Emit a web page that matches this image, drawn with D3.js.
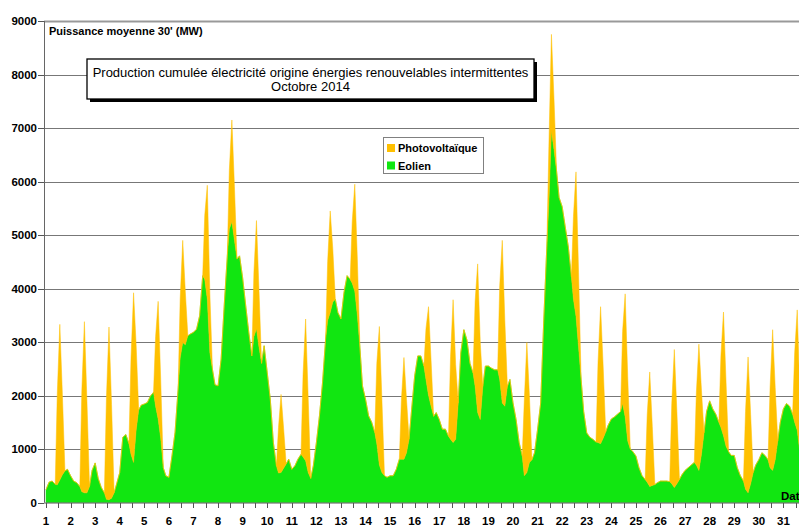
<!DOCTYPE html>
<html><head><meta charset="utf-8">
<script src="https://cdn.jsdelivr.net/npm/d3@7"></script>
<style>
body{margin:0;background:#fff}
svg{display:block}
text{font-family:"Liberation Sans",Arial,sans-serif;fill:#000}
</style>
</head><body>
<svg id="chart" width="799" height="527"></svg>
<script>
// ---- data (MW, 30-min mean power) ----
const dayLabels = ["1","2","3","4","5","6","7","8","9","10","11","12","13","14","15","16",
  "17","18","19","20","21","22","23","24","25","26","27","28","29","30","31"];
const yTickValues = [0,1000,2000,3000,4000,5000,6000,7000,8000,9000];
// hours of each day at which values were read
const sampleHours = [0,3,6,9,11,13.5,16,18.5,21];
// Eolien (wind) per day at sampleHours
const windMW = [
  [240,380,400,340,330,420,520,590,620],
  [500,400,370,300,200,180,180,300,600],
  [740,450,280,180,60,50,80,180,350],
  [560,1220,1270,1100,900,750,1350,1730,1820],
  [1840,1870,1990,2060,1800,1560,1200,650,500],
  [470,870,1310,2120,2700,2990,2950,3115,3150],
  [3180,3240,3490,4240,4170,3800,2800,2490,2200],
  [2180,2680,3680,4600,5110,5250,4900,4550,4610],
  [4200,3680,3180,2740,3100,3250,2900,2600,2930],
  [2430,1930,1120,685,550,560,640,720,810],
  [620,685,810,900,850,780,560,450,685],
  [1120,1620,2240,3050,3400,3550,3750,3800,3550],
  [3430,3930,4240,4170,4100,3950,3500,2900,2180],
  [1930,1620,1500,1310,1100,700,560,500,470],
  [500,500,620,810,810,810,930,1180,1740],
  [2370,2740,2740,2550,2300,2000,1800,1610,1680],
  [1550,1370,1370,1240,1180,1120,1180,1860,2800],
  [3230,3040,2600,2420,2170,1680,1550,2170,2550],
  [2550,2510,2480,2480,2300,1860,1800,2170,2300],
  [1860,1550,1120,870,500,560,750,800,930],
  [1370,1860,3400,4780,5600,6950,6600,6200,5700],
  [5530,5150,4780,4220,3800,3480,2900,2300,1700],
  [1300,1220,1180,1130,1120,1100,1200,1320,1450],
  [1560,1600,1650,1700,1850,1600,1150,1000,950],
  [870,650,500,430,380,300,320,335,370],
  [400,400,400,390,350,280,350,430,520],
  [600,650,700,750,700,600,900,1300,1700],
  [1900,1750,1650,1500,1400,1250,1050,950,880],
  [880,650,500,400,250,180,350,560,700],
  [800,930,880,800,650,600,800,1150,1500],
  [1750,1850,1800,1650,1500,1350,950,900,800]
];
// Photovoltaïque per day at 11h, 13h30, 16h (zero at the other sample hours)
const pvHours = [11,13.5,16];
const pvMW = [
  [1700,2910,1500],[1900,3200,1700],[1900,3230,1750],[1800,3170,1600],[1300,2200,1100],
  [1100,1910,1000],[1200,2130,1100],[1100,1900,1000],[1200,2020,1050],[850,1460,750],
  [1550,2650,1400],[1100,1900,1000],[1150,2000,1050],[1500,2590,1350],[1100,1900,1000],
  [950,1660,850],[1550,2670,1400],[1600,2780,1450],[1750,3040,1600],[1400,2430,1250],
  [1050,1800,950],[1550,2700,1400],[1500,2560,1350],[1350,2300,1200],[1250,2140,1100],
  [1500,2580,1350],[1350,2360,1200],[1350,2310,1200],[1450,2540,1300],[1500,2630,1350],
  [1300,2250,1150]
];
const seriesNames = {wind:"Eolien", pv:"Photovoltaïque"};
const colors = {wind:"#11e611", pv:"#ffc000"};

// ---- build table ----
const rows = [];
windMW.forEach((day, d) => {
  sampleHours.forEach((h, i) => {
    const k = pvHours.indexOf(h);
    rows.push({t: d + h/24, wind: day[i], pv: k >= 0 ? pvMW[d][k] : 0});
  });
});

const svg = d3.select("#chart");
const W = 799, H = 527;
const x = d3.scaleLinear().domain([0, 31]).range([46, 46 + 31*24.58]);
const y = d3.scaleLinear().domain([0, 9000]).range([502.5, 21]);
const axisX = 44;

svg.append("rect").attr("width", W).attr("height", H).attr("fill", "#fff");

// gridlines
svg.append("g").selectAll("line").data(yTickValues.filter(v => v > 0)).join("line")
  .attr("x1", axisX).attr("x2", W)
  .attr("y1", d => Math.round(y(d)) + 0.5).attr("y2", d => Math.round(y(d)) + 0.5)
  .attr("stroke", d => d === 9000 ? "#999" : "#777")
  .attr("stroke-width", d => d === 9000 ? 2 : 1);

// stacked areas
const stack = d3.stack().keys(["wind", "pv"]);
const layers = stack(rows);
const area = d3.area()
  .x(d => x(d.data.t))
  .y0(d => y(d[0]))
  .y1(d => y(d[1]));
svg.append("g").selectAll("path").data(layers).join("path")
  .attr("d", area)
  .attr("fill", d => colors[d.key])
  .attr("stroke", d => colors[d.key])
  .attr("stroke-width", 0.5);

// y axis
const yAxis = svg.append("g");
yAxis.append("line").attr("x1", axisX + 0.5).attr("x2", axisX + 0.5)
  .attr("y1", y(9000)).attr("y2", y(0)).attr("stroke", "#666");
yAxis.selectAll("line.tk").data(yTickValues).join("line").attr("class", "tk")
  .attr("x1", axisX - 6).attr("x2", axisX)
  .attr("y1", d => Math.round(y(d)) + 0.5).attr("y2", d => Math.round(y(d)) + 0.5)
  .attr("stroke", "#555");
yAxis.selectAll("text").data(yTickValues).join("text")
  .attr("x", 37).attr("y", d => y(d) + 4)
  .attr("text-anchor", "end").attr("font-size", "11.5px").attr("font-weight", "bold")
  .text(d => d);

// x axis
const xAxis = svg.append("g");
xAxis.append("line").attr("x1", axisX).attr("x2", W)
  .attr("y1", 503).attr("y2", 503).attr("stroke", "#555");
xAxis.selectAll("line.tk").data(d3.range(0, 62)).join("line").attr("class", "tk")
  .attr("x1", d => Math.round(x(d/2)) + 0.5).attr("x2", d => Math.round(x(d/2)) + 0.5)
  .attr("y1", 503).attr("y2", 508).attr("stroke", "#555");
xAxis.selectAll("text").data(dayLabels).join("text")
  .attr("x", (d, i) => x(i)).attr("y", 525)
  .attr("text-anchor", "middle").attr("font-size", "11.5px").attr("font-weight", "bold")
  .text(d => d);
svg.append("text").attr("x", 781).attr("y", 500)
  .attr("font-size", "11.5px").attr("font-weight", "bold").text("Date");

// unit label
svg.append("text").attr("x", 49).attr("y", 35)
  .attr("font-size", "11px").attr("font-weight", "bold")
  .text("Puissance moyenne 30' (MW)");

// title box
const tb = {x: 87, y: 59, w: 447, h: 40};
svg.append("rect").attr("x", tb.x + 3).attr("y", tb.y + 3).attr("width", tb.w).attr("height", tb.h).attr("fill", "#000");
svg.append("rect").attr("x", tb.x).attr("y", tb.y).attr("width", tb.w).attr("height", tb.h)
  .attr("fill", "#fff").attr("stroke", "#000").attr("stroke-width", 1.3);
svg.append("text").attr("x", tb.x + tb.w/2).attr("y", 76.5).attr("text-anchor", "middle")
  .attr("font-size", "13px").text("Production cumulée électricité origine énergies renouvelables intermittentes");
svg.append("text").attr("x", tb.x + tb.w/2).attr("y", 91).attr("text-anchor", "middle")
  .attr("font-size", "13px").text("Octobre 2014");

// legend
const lg = svg.append("g");
lg.append("rect").attr("x", 383.5).attr("y", 137.5).attr("width", 100).attr("height", 36)
  .attr("fill", "#fff").attr("stroke", "#808080");
["pv", "wind"].forEach((k, i) => {
  lg.append("rect").attr("x", 387).attr("y", 144 + i*17.5).attr("width", 8).attr("height", 8)
    .attr("fill", colors[k]);
  lg.append("text").attr("x", 398).attr("y", 152 + i*17.5)
    .attr("font-size", "11px").attr("font-weight", "bold").text(seriesNames[k]);
});
</script>
</body></html>
